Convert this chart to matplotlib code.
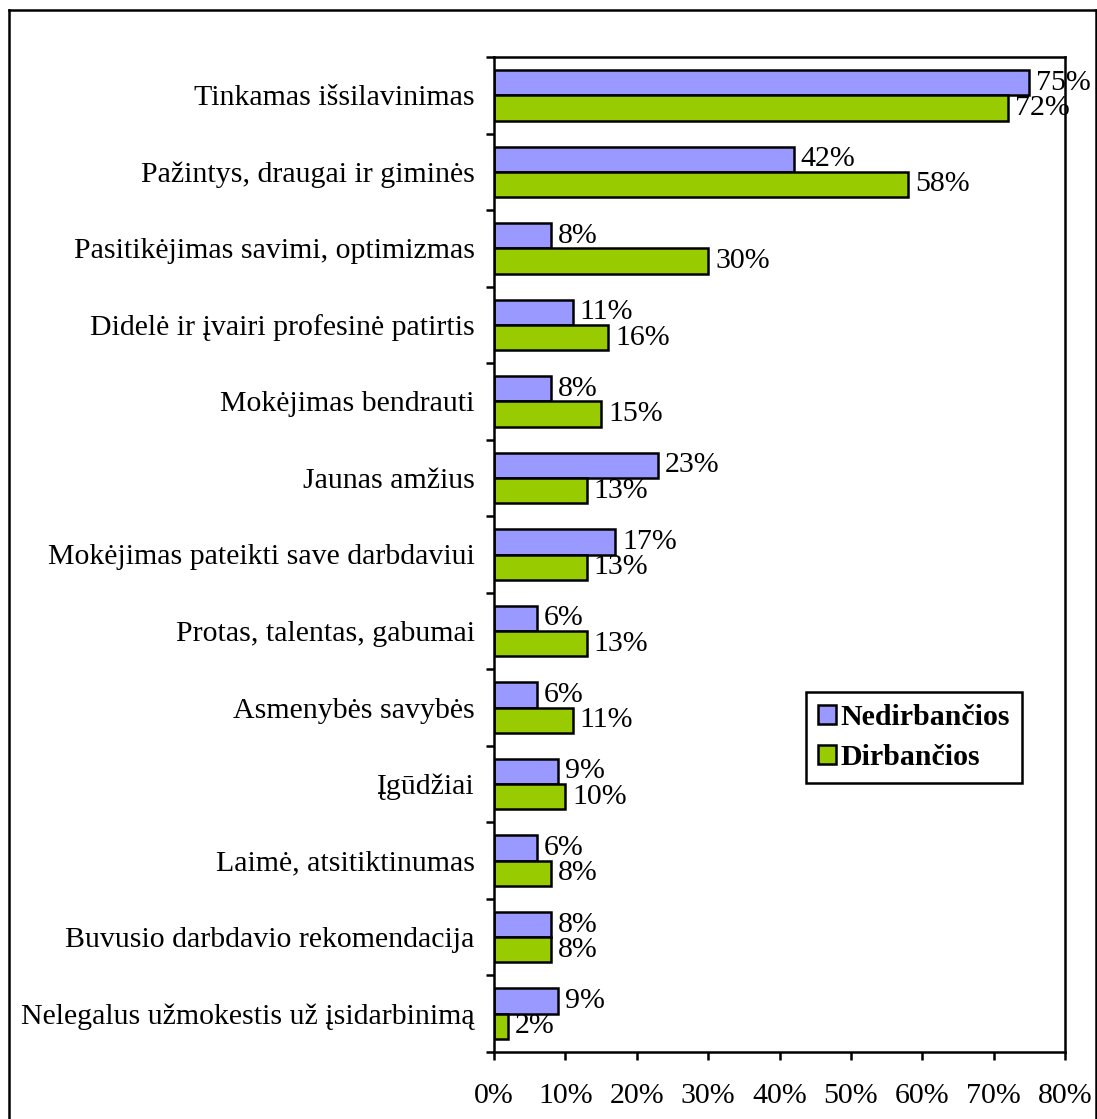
import matplotlib
matplotlib.use("Agg")
import matplotlib.pyplot as plt
import numpy as np
from matplotlib.lines import Line2D
from matplotlib.patches import Patch

categories = [
    "Tinkamas išsilavinimas",
    "Pažintys, draugai ir giminės",
    "Pasitikėjimas savimi, optimizmas",
    "Didelė ir įvairi profesinė patirtis",
    "Mokėjimas bendrauti",
    "Jaunas amžius",
    "Mokėjimas pateikti save darbdaviui",
    "Protas, talentas, gabumai",
    "Asmenybės savybės",
    "Įgūdžiai",
    "Laimė, atsitiktinumas",
    "Buvusio darbdavio rekomendacija",
    "Nelegalus užmokestis už įsidarbinimą",
]
nedirbancios = [75, 42, 8, 11, 8, 23, 17, 6, 6, 9, 6, 8, 9]
dirbancios = [72, 58, 30, 16, 15, 13, 13, 13, 11, 10, 8, 8, 2]
series_names = ["Nedirbančios", "Dirbančios"]
xticks = [0, 10, 20, 30, 40, 50, 60, 70, 80]

plt.rcParams['font.family'] = ['Liberation Serif', 'DejaVu Serif']
FS = 21.5
LW = 1.8

fig = plt.figure(figsize=(10.97, 11.19), dpi=100)
ax = fig.add_axes([494/1097, 1-1052/1119, (1065-494)/1097, (1052-57)/1119])

n = len(categories)
y = np.arange(n)
h = 0.33
c_blue = "#9999FF"
c_green = "#99CC00"
b1 = ax.barh(y - h/2, nedirbancios, height=h, color=c_blue, edgecolor="black", linewidth=LW)
b2 = ax.barh(y + h/2, dirbancios, height=h, color=c_green, edgecolor="black", linewidth=LW)

for bars, vals in ((b1, nedirbancios), (b2, dirbancios)):
    for rect, v in zip(bars, vals):
        ax.annotate(f"{v}%", xy=(v, rect.get_y() + rect.get_height()/2),
                    xytext=(5, 0), textcoords="offset points",
                    ha="left", va="center", fontsize=FS)

ax.set_xlim(0, 80)
ax.set_ylim(n - 0.5, -0.5)
ax.set_xticks(xticks)
ax.set_xticklabels([f"{t}%" for t in xticks], fontsize=FS)
ax.tick_params(axis="x", direction="out", length=6, width=LW, pad=16)

ax.set_yticks(np.arange(-0.5, n, 1.0))
ax.set_yticklabels([])
ax.tick_params(axis="y", which="major", direction="out", length=6, width=LW)
ax.set_yticks(y, minor=True)
ax.set_yticklabels(categories, minor=True, fontsize=FS)
ax.tick_params(axis="y", which="minor", length=0, pad=14)

for s in ax.spines.values():
    s.set_linewidth(LW)

leg = ax.legend(handles=[Patch(facecolor=c_blue, edgecolor="black", linewidth=LW),
                         Patch(facecolor=c_green, edgecolor="black", linewidth=LW)],
                labels=series_names, loc="upper left",
                bbox_to_anchor=((806-494)/571, 1-(692-57)/995),
                prop={"weight": "bold", "size": FS}, frameon=True, fancybox=False,
                framealpha=1, edgecolor="black", handlelength=0.6, handleheight=0.6,
                handletextpad=0.15, borderpad=0.4, labelspacing=0.45, borderaxespad=0)
leg.get_frame().set_linewidth(LW)

# outer frame
L, R, T = 9/1097, 1096/1097, 1-10/1119
for xs, ys in (([L, R], [T, T]), ([L, L], [T, -0.1]), ([R, R], [T, -0.1])):
    fig.add_artist(Line2D(xs, ys, transform=fig.transFigure, color="black", linewidth=LW))

fig.savefig("out.png", dpi=100)
